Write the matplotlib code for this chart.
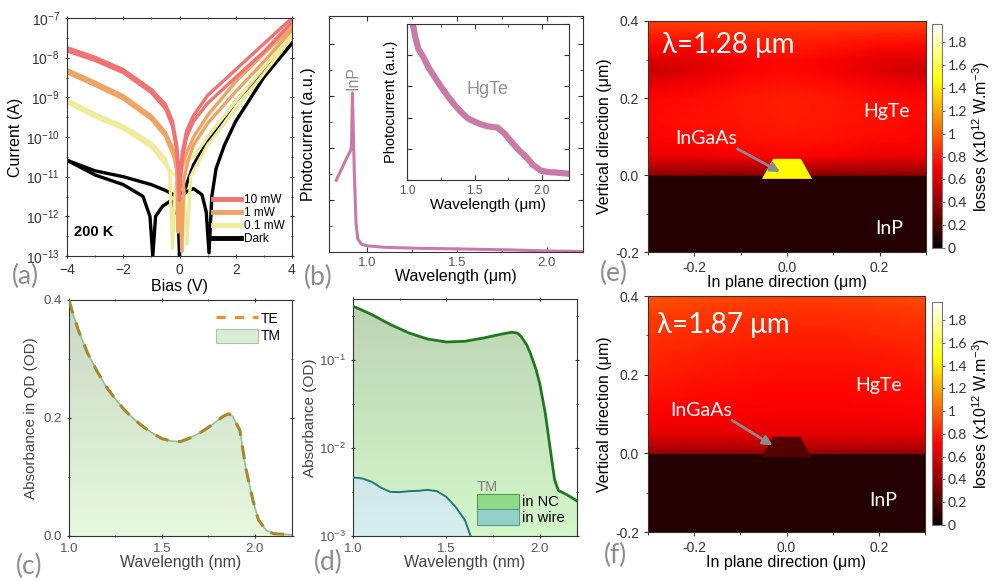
import numpy as np
import matplotlib
matplotlib.use('Agg')
import matplotlib.pyplot as plt
from matplotlib.patches import Polygon, Patch
from matplotlib.lines import Line2D
from matplotlib.ticker import MultipleLocator, LogLocator, NullFormatter, FixedLocator
from matplotlib.colors import Normalize, to_rgb

plt.rcParams['font.family'] = ['Liberation Sans', 'DejaVu Sans']
plt.rcParams['mathtext.fontset'] = 'custom'
plt.rcParams['mathtext.rm'] = 'Liberation Sans'
plt.rcParams['mathtext.it'] = 'Liberation Sans:italic'
plt.rcParams['mathtext.bf'] = 'Liberation Sans:bold'
plt.rcParams['axes.linewidth'] = 0.8
plt.rcParams['axes.edgecolor'] = '#333333'
plt.rcParams['xtick.color'] = '#333333'
plt.rcParams['ytick.color'] = '#333333'

# ---------------- data: (a) I-V curves at 200 K ----------------
v_10mw_1 = [-4, -3, -2, -1, -0.5, -0.25, -0.1, -0.03, 0.0, 0.03, 0.1, 0.25, 0.5, 1, 2, 3, 4]
i_10mw_1 = [1.78e-8, 1.02e-8, 5.0e-9, 1.58e-9, 6.6e-10, 2.5e-10, 6.3e-11, 1.58e-11, 4e-12,
            1.26e-11, 4e-11, 1.41e-10, 3.5e-10, 1.12e-9, 5e-9, 2.24e-8, 1e-7]
v_10mw_2 = [-4, -3, -2, -1, -0.5, -0.25, -0.1, -0.03, 0.0, 0.03, 0.1, 0.25, 0.5, 1, 2, 3, 4]
i_10mw_2 = [1.48e-8, 8.5e-9, 4.2e-9, 1.32e-9, 5.2e-10, 1.9e-10, 4.5e-11, 1e-11, 2.5e-12,
            7.9e-12, 2.8e-11, 1e-10, 2.5e-10, 7.1e-10, 3.2e-9, 1.41e-8, 7.9e-8]
v_1mw_1 = [-4, -3, -2, -1, -0.5, -0.2, -0.1, -0.05, 0, 0.1, 0.2, 0.5, 1, 2, 3, 4]
i_1mw_1 = [5.0e-9, 2.4e-9, 1.1e-9, 3.4e-10, 1.32e-10, 4.5e-11, 1.6e-11, 4e-13, 6.3e-12,
           1.8e-11, 3.2e-11, 1e-10, 3.5e-10, 2.5e-9, 1.26e-8, 6.0e-8]
v_1mw_2 = [-4, -3, -2, -1, -0.5, -0.2, -0.05, 0.02, 0.08, 0.15, 0.3, 0.5, 1, 2, 3, 4]
i_1mw_2 = [4.2e-9, 2.0e-9, 9.1e-10, 2.8e-10, 1.05e-10, 3.2e-11, 1e-11, 2.5e-12, 1.3e-13,
           7.9e-12, 2.5e-11, 6.3e-11, 2.2e-10, 1.4e-9, 7.9e-9, 5.0e-8]
v_01mw_1 = [-4, -3, -2, -1, -0.5, -0.35, -0.25, -0.15, 0, 0.2, 0.5, 1, 2, 3, 4]
i_01mw_1 = [8.7e-10, 3.8e-10, 1.9e-10, 7.1e-11, 2.8e-11, 1.3e-11, 1.6e-13, 5e-12, 1.5e-11,
            2.2e-11, 3.2e-11, 1e-10, 7.9e-10, 5.6e-9, 4.0e-8]
v_01mw_2 = [-4, -3, -2, -1, -0.5, -0.25, 0, 0.15, 0.26, 0.4, 0.5, 1, 2, 3, 4]
i_01mw_2 = [7.5e-10, 3.2e-10, 1.6e-10, 5.6e-11, 2.0e-11, 1.2e-11, 1.0e-11, 5e-12, 2e-13,
            1e-11, 1.4e-11, 6.3e-11, 5.0e-10, 4.0e-9, 3.2e-8]
v_dark_1 = [-4, -3, -2, -1.3, -1.05, -0.95, -0.85, -0.6, -0.3, -0.05, 0.0, 0.05, 0.2, 0.5, 1.0, 1.5, 2, 3, 4]
i_dark_1 = [2.6e-11, 1.1e-11, 6.3e-12, 3.2e-12, 1e-12, 1e-13, 1e-12, 1.8e-12, 2.5e-12, 1e-12,
            1e-13, 1e-12, 5e-12, 2e-11, 7.9e-11, 2.5e-10, 7.9e-10, 5e-9, 2.3e-8]
v_dark_2 = [-4, -3, -2, -1, -0.5, -0.2, 0.2, 0.5, 0.8, 0.95, 1.05, 1.15, 1.3, 1.6, 2, 3, 4]
i_dark_2 = [2.6e-11, 1.4e-11, 1e-11, 6.3e-12, 4.5e-12, 3.5e-12, 4e-12, 5e-12, 3.5e-12, 1.3e-12,
            1.2e-13, 3.2e-12, 1.6e-11, 6.3e-11, 2.5e-10, 3.2e-9, 2.3e-8]

# ---------------- data: (b) photocurrent spectrum ----------------
lam_b = [0.83, 0.86, 0.89, 0.91, 0.915, 0.92, 0.93, 0.94, 0.95, 0.97, 1.0, 1.1, 1.3, 1.5, 1.8, 2.0, 2.2]
pc_b = [1.38, 1.6, 1.82, 1.95, 2.05, 3.06, 1.6, 0.55, 0.25, 0.15, 0.12, 0.09, 0.07, 0.06, 0.04, 0.02, 0.01]
lam_b_in = [1.03, 1.06, 1.085, 1.12, 1.16, 1.2, 1.25, 1.3, 1.35, 1.4, 1.45, 1.5, 1.55, 1.6, 1.67,
            1.72, 1.78, 1.83, 1.88, 1.93, 1.99, 2.05, 2.1, 2.15, 2.2]
pc_b_in = [5.3, 4.6, 4.19, 3.95, 3.6, 3.33, 3.0, 2.7, 2.42, 2.18, 1.98, 1.87, 1.78, 1.72, 1.68,
           1.5, 1.19, 0.95, 0.75, 0.5, 0.3, 0.25, 0.24, 0.22, 0.2]

# ---------------- data: (c) absorbance in QD ----------------
lam_c = [1.0, 1.02, 1.05, 1.1, 1.15, 1.2, 1.25, 1.3, 1.35, 1.4, 1.45, 1.5, 1.55, 1.6, 1.65, 1.7,
         1.75, 1.8, 1.83, 1.86, 1.88, 1.92, 1.95, 1.99, 2.02, 2.06, 2.1, 2.15, 2.2]
abs_tm = [0.40, 0.378, 0.349, 0.31, 0.28, 0.253, 0.232, 0.213, 0.198, 0.185, 0.174, 0.165, 0.161,
          0.160, 0.166, 0.174, 0.184, 0.196, 0.203, 0.207, 0.203, 0.179, 0.117, 0.06, 0.027,
          0.010, 0.004, 0.003, 0.002]
abs_te = abs_tm

# ---------------- data: (d) TM absorbance in NC / in wire ----------------
lam_nc = [1.0, 1.05, 1.1, 1.2, 1.3, 1.4, 1.5, 1.6, 1.7, 1.8, 1.85, 1.88, 1.9, 1.93, 1.95, 1.98,
          2.0, 2.03, 2.06, 2.08, 2.1, 2.15, 2.2]
abs_nc = [0.414, 0.372, 0.333, 0.256, 0.205, 0.175, 0.162, 0.165, 0.180, 0.200, 0.209, 0.205,
          0.188, 0.151, 0.121, 0.0794, 0.0551, 0.0251, 0.0087, 0.00437, 0.00331, 0.00292, 0.00251]
lam_wire = [1.0, 1.05, 1.1, 1.15, 1.2, 1.25, 1.3, 1.35, 1.4, 1.45, 1.5, 1.55, 1.6, 1.63, 1.66]
abs_wire = [4.65e-3, 4.52e-3, 4.14e-3, 3.55e-3, 3.18e-3, 3.16e-3, 3.24e-3, 3.27e-3, 3.35e-3,
            3.24e-3, 2.79e-3, 2.14e-3, 1.51e-3, 1.0e-3, 6.3e-4]

# ---------------- data: (e)/(f) loss maps ----------------
map_x = [-0.3, -0.2, -0.1, 0.0, 0.1, 0.2, 0.3]
map_y = [-0.2, -0.002, 0.0, 0.02, 0.05, 0.1, 0.15, 0.2, 0.24, 0.27, 0.3, 0.34, 0.37, 0.4]
loss_128 = [
    [0.08] * 7,
    [0.08] * 7,
    [0.38] * 7,
    [0.5] * 7,
    [0.66, 0.66, 0.70, 0.72, 0.70, 0.66, 0.66],
    [0.72, 0.74, 0.76, 0.78, 0.76, 0.74, 0.72],
    [0.74, 0.76, 0.78, 0.80, 0.78, 0.76, 0.74],
    [0.72, 0.75, 0.78, 0.80, 0.78, 0.75, 0.72],
    [0.64, 0.69, 0.74, 0.77, 0.74, 0.69, 0.64],
    [0.56, 0.62, 0.70, 0.74, 0.70, 0.62, 0.56],
    [0.62, 0.64, 0.70, 0.74, 0.70, 0.64, 0.62],
    [0.74, 0.75, 0.78, 0.80, 0.78, 0.75, 0.74],
    [0.82, 0.82, 0.84, 0.84, 0.84, 0.82, 0.82],
    [0.90] * 7,
]
loss_187 = [
    [0.08] * 7,
    [0.08] * 7,
    [0.40] * 7,
    [0.52] * 7,
    [0.64] * 7,
    [0.72, 0.71, 0.70, 0.69, 0.69, 0.70, 0.71],
    [0.76, 0.74, 0.73, 0.72, 0.72, 0.73, 0.74],
    [0.80, 0.78, 0.76, 0.75, 0.75, 0.76, 0.78],
    [0.82, 0.80, 0.78, 0.77, 0.77, 0.78, 0.80],
    [0.84, 0.82, 0.80, 0.79, 0.79, 0.80, 0.82],
    [0.86, 0.84, 0.82, 0.81, 0.81, 0.82, 0.84],
    [0.88, 0.87, 0.85, 0.84, 0.84, 0.85, 0.87],
    [0.92, 0.90, 0.88, 0.87, 0.87, 0.88, 0.90],
    [0.96, 0.94, 0.92, 0.90, 0.90, 0.92, 0.94],
]
wire_x = [-0.054, 0.054, 0.03, -0.03]
wire_y = [-0.01, -0.01, 0.042, 0.042]
wire_loss_128 = 1.45
wire_loss_187 = 0.22
loss_vmax = 1.96
cbar_ticks = [0, 0.2, 0.4, 0.6, 0.8, 1.0, 1.2, 1.4, 1.6, 1.8]
cbar_labels = ['0', '0.2', '0.4', '0.6', '0.8', '1', '1.2', '1.4', '1.6', '1.8']

# ---------------- figure ----------------
W, H = 998, 581
fig = plt.figure(figsize=(W / 100, H / 100), dpi=100)


def add_ax(x0, y0, x1, y1):
    return fig.add_axes([x0 / W, 1 - y1 / H, (x1 - x0) / W, (y1 - y0) / H])


def gradient_fill(ax, x, y, base, c_top, c_bot, zorder=1):
    verts = [(x[0], base)] + list(zip(x, y)) + [(x[-1], base)]
    poly = Polygon(verts, closed=True, facecolor='none', edgecolor='none')
    ax.add_patch(poly)
    t = np.linspace(0, 1, 256)[:, None, None]
    img = np.array(to_rgb(c_top))[None, None, :] * (1 - t) + np.array(to_rgb(c_bot))[None, None, :] * t
    im = ax.imshow(img, extent=[0, 1, 0, 1], transform=ax.transAxes, aspect='auto',
                   zorder=zorder, interpolation='bilinear')
    im.set_clip_path(poly)
    return im


def panel_label(x, y, s, size=20):
    fig.text(x / W, 1 - y / H, s, fontsize=size, color='#8c8c8c', family=['Lato', 'DejaVu Sans'],
             ha='left', va='center')


def style(ax, tl=9):
    ax.tick_params(which='both', top=True, right=True, labelsize=tl)
    ax.tick_params(which='major', length=3.5, width=0.8)
    ax.tick_params(which='minor', length=2, width=0.6)
    ax.tick_params(axis='x', which='both', top=True, direction='in')
    ax.tick_params(axis='y', which='both', right=True, direction='in')
    ax.tick_params(axis='x', which='both', bottom=True, direction='inout')
    ax.tick_params(axis='y', which='both', left=True, direction='inout')


# ---- (a) ----
axA = add_ax(67, 18, 292, 256)
c10, c1, c01, cd = '#f07272', '#f0a464', '#eeec9c', '#000000'
for v, i, c in [(v_dark_1, i_dark_1, cd), (v_dark_2, i_dark_2, cd),
                (v_01mw_1, i_01mw_1, c01), (v_01mw_2, i_01mw_2, c01),
                (v_1mw_1, i_1mw_1, c1), (v_1mw_2, i_1mw_2, c1),
                (v_10mw_1, i_10mw_1, c10), (v_10mw_2, i_10mw_2, c10)]:
    axA.plot(v, i, color=c, lw=2.4, solid_joinstyle='round')
axA.set_yscale('log')
axA.set_xlim(-4, 4)
axA.set_ylim(1e-13, 1e-7)
axA.xaxis.set_major_locator(MultipleLocator(2))
axA.xaxis.set_minor_locator(MultipleLocator(1))
axA.yaxis.set_major_locator(LogLocator(base=10, numticks=10))
axA.yaxis.set_minor_locator(LogLocator(base=10, subs=(3.162,), numticks=10))
axA.yaxis.set_minor_formatter(NullFormatter())
style(axA, tl=10)
axA.set_xlabel('Bias (V)', fontsize=11.5, labelpad=1)
axA.set_ylabel('Current (A)', fontsize=11.5, labelpad=2)
handles = [Line2D([], [], color=c10, lw=3.5), Line2D([], [], color=c1, lw=3.5),
           Line2D([], [], color=c01, lw=3.5), Line2D([], [], color=cd, lw=3.5)]
axA.legend(handles, ['10 mW', '1 mW', '0.1 mW', 'Dark'], loc='lower right',
           bbox_to_anchor=(1.0, 0.015), frameon=False, fontsize=8.5, handlelength=2.3,
           labelspacing=0.1, borderpad=0.1, handletextpad=0.3)
axA.text(0.03, 0.1, '200 K', transform=axA.transAxes, fontsize=10.5, fontweight='bold',
         ha='left', va='center')
panel_label(12, 276, '(a)', size=19)

# ---- (b) ----
axB = add_ax(329, 16, 583, 252)
pcol = '#c97aa9'
axB.plot(lam_b, pc_b, color=pcol, lw=2.2, solid_joinstyle='round')
axB.set_xlim(0.79, 2.2)
axB.set_ylim(0, 4.54)
axB.xaxis.set_major_locator(MultipleLocator(0.5))
axB.xaxis.set_minor_locator(MultipleLocator(0.25))
axB.yaxis.set_major_locator(MultipleLocator(1))
axB.yaxis.set_minor_locator(MultipleLocator(0.5))
axB.set_yticklabels([])
style(axB, tl=9.5)
axB.tick_params(axis='both', which='both', direction='in')
for lab in axB.get_xticklabels():
    lab.set_color('#555555')
axB.set_xlabel('Wavelength (μm)', fontsize=11.5, labelpad=0)
axB.set_ylabel('Photocurrent (a.u.)', fontsize=11.5, labelpad=6)
axB.text(0.925, 3.12, 'InP', rotation=90, color='#909090', fontsize=11.5, ha='center', va='bottom')
panel_label(304, 277, '(b)', size=19)

axBi = add_ax(407, 24, 569, 180)
axBi.plot(lam_b_in, pc_b_in, color=pcol, lw=4.5, solid_joinstyle='round')
axBi.set_xlim(1.0, 2.2)
axBi.set_ylim(0, 5.0)
axBi.xaxis.set_major_locator(MultipleLocator(0.5))
axBi.xaxis.set_minor_locator(MultipleLocator(0.25))
axBi.yaxis.set_major_locator(MultipleLocator(1))
axBi.set_yticklabels([])
style(axBi, tl=8.5)
axBi.tick_params(axis='both', which='both', direction='in')
for lab in axBi.get_xticklabels():
    lab.set_color('#555555')
axBi.set_xlabel('Wavelength (μm)', fontsize=11, labelpad=1)
axBi.set_ylabel('Photocurrent (a.u.)', fontsize=10.5, labelpad=3)
axBi.text(1.6, 2.9, 'HgTe', color='#909090', fontsize=13, ha='center', va='center')

# ---- (c) ----
axC = add_ax(69, 300, 292, 536)
gradient_fill(axC, lam_c, abs_tm, 0, '#c9d8c4', '#e6f8de', zorder=1)
axC.plot(lam_c, abs_tm, color='#8cc58c', lw=1.2, zorder=2)
axC.plot(lam_c, abs_te, color='#a8862a', lw=2.2, ls=(0, (4.5, 3.2)), zorder=3)
axC.set_xlim(1.0, 2.2)
axC.set_ylim(0, 0.4)
axC.xaxis.set_major_locator(MultipleLocator(0.5))
axC.xaxis.set_minor_locator(MultipleLocator(0.25))
axC.yaxis.set_major_locator(MultipleLocator(0.2))
axC.yaxis.set_minor_locator(MultipleLocator(0.1))
axC.yaxis.set_major_formatter(matplotlib.ticker.FormatStrFormatter('%.1f'))
style(axC, tl=9.5)
for lab in axC.get_xticklabels() + axC.get_yticklabels():
    lab.set_color('#555555')
axC.set_xlabel('Wavelength (nm)', fontsize=11.5, labelpad=0, color='#444444')
axC.set_ylabel('Absorbance in QD (OD)', fontsize=11, labelpad=4, color='#444444')
hC = [Line2D([], [], color='#f08c2c', lw=2.2, ls=(0, (3, 3))),
      Patch(facecolor='#d9edd2', edgecolor='#a9c7a3', lw=0.8)]
axC.legend(hC, ['TE', 'TM'], loc='upper right', bbox_to_anchor=(1.0, 1.0), frameon=False,
           fontsize=10, handlelength=3.0, handleheight=1.2, labelspacing=0.2,
           handletextpad=0.2, borderpad=0.3)
panel_label(16, 566, '(c)', size=19)

# ---- (d) ----
axD = add_ax(353, 299, 577, 536)
gradient_fill(axD, lam_nc, abs_nc, 1e-5, '#bcd3b4', '#d3f7c9', zorder=1)
gradient_fill(axD, lam_wire, abs_wire, 1e-5, '#b7ccd0', '#d8eff2', zorder=2)
axD.plot(lam_nc, abs_nc, color='#1f7a1f', lw=2.0, zorder=3)
axD.plot(lam_wire, abs_wire, color='#1f7a7a', lw=1.4, zorder=3)
axD.set_yscale('log')
axD.set_xlim(1.0, 2.2)
axD.set_ylim(1e-3, 0.5)
axD.xaxis.set_major_locator(MultipleLocator(0.5))
axD.xaxis.set_minor_locator(MultipleLocator(0.25))
axD.yaxis.set_major_locator(FixedLocator([1e-3, 1e-2, 1e-1]))
axD.yaxis.set_minor_locator(FixedLocator([3.162e-3, 3.162e-2, 3.162e-1]))
axD.yaxis.set_minor_formatter(NullFormatter())
style(axD, tl=9.5)
for lab in axD.get_xticklabels() + axD.get_yticklabels():
    lab.set_color('#555555')
axD.set_xlabel('Wavelength (nm)', fontsize=11.5, labelpad=0, color='#444444')
axD.set_ylabel('Absorbance (OD)', fontsize=11, labelpad=1, color='#444444')
hD = [Patch(facecolor='#8edb88', edgecolor='#4f9a4f', lw=0.8),
      Patch(facecolor='#92d0c6', edgecolor='#5a9a98', lw=0.8)]
legD = axD.legend(hD, ['in NC', 'in wire'], title='TM', loc='lower right',
                  bbox_to_anchor=(0.995, 0.0), frameon=False, fontsize=10.5, title_fontsize=10.5,
                  handlelength=2.9, handleheight=1.25, labelspacing=0.0, handletextpad=0.2,
                  borderpad=0.25)
legD._legend_box.align = 'left'
legD.get_title().set_color('#808080')
panel_label(314, 562, '(d)', size=19)

# ---- (e) / (f) ----
norm = Normalize(vmin=0, vmax=loss_vmax)
cmap = plt.get_cmap('hot')
annot_font = ['Lato', 'DejaVu Sans']


def loss_panel(box, cbox, loss, wire_loss, lam_txt, lam_pos, ing_pos, arrow_from, arrow_to,
               hg_pos, inp_pos, label, label_pos):
    ax = add_ax(*box)
    X, Y = np.meshgrid(map_x, map_y)
    mesh = ax.pcolormesh(X, Y, np.array(loss), shading='gouraud', cmap=cmap, norm=norm,
                         rasterized=True)
    ax.add_patch(Polygon(list(zip(wire_x, wire_y)), closed=True,
                         facecolor=cmap(norm(wire_loss)), edgecolor='none', zorder=3))
    ax.set_xlim(-0.3, 0.3)
    ax.set_ylim(-0.2, 0.4)
    ax.xaxis.set_major_locator(MultipleLocator(0.2))
    ax.xaxis.set_minor_locator(MultipleLocator(0.1))
    ax.yaxis.set_major_locator(MultipleLocator(0.2))
    ax.yaxis.set_minor_locator(MultipleLocator(0.1))
    ax.xaxis.set_major_formatter(matplotlib.ticker.FormatStrFormatter('%.1f'))
    ax.yaxis.set_major_formatter(matplotlib.ticker.FormatStrFormatter('%.1f'))
    ax.tick_params(which='both', direction='out', labelsize=10, labelcolor='#333333')
    ax.tick_params(which='major', length=3)
    ax.tick_params(which='minor', length=1.8)
    ax.set_xlabel('In plane direction (μm)', fontsize=11.5, labelpad=0)
    ax.set_ylabel('Vertical direction (μm)', fontsize=11.5, labelpad=2)
    ax.text(lam_pos[0], lam_pos[1], lam_txt, color='white', fontsize=20, family=annot_font,
            ha='left', va='center')
    ax.text(ing_pos[0], ing_pos[1], 'InGaAs', color='white', fontsize=14, family=annot_font,
            ha='center', va='center')
    ax.text(hg_pos[0], hg_pos[1], 'HgTe', color='white', fontsize=14, family=annot_font,
            ha='center', va='center')
    ax.text(inp_pos[0], inp_pos[1], 'InP', color='white', fontsize=14, family=annot_font,
            ha='center', va='center')
    ax.annotate('', xy=arrow_to, xytext=arrow_from,
                arrowprops=dict(arrowstyle='-|>', color='#8a8a8a', lw=2.0, mutation_scale=14,
                                shrinkA=0, shrinkB=0), zorder=5)
    cax = add_ax(*cbox)
    cb = fig.colorbar(mesh, cax=cax, ticks=cbar_ticks)
    cb.ax.set_yticklabels(cbar_labels, family=annot_font, fontsize=10)
    cb.ax.tick_params(length=2, width=0.6, color='#555555', pad=2)
    cb.outline.set_edgecolor('#777777')
    cb.outline.set_linewidth(0.8)
    cb.set_label('losses (x10$^{12}$ W.m$^{-3}$)', fontsize=11.5, labelpad=2)
    panel_label(label_pos[0], label_pos[1], label, size=19)
    return ax


loss_panel((648, 21, 926, 252), (932, 24, 942, 248), loss_128, wire_loss_128, 'λ=1.28 μm',
           (-0.27, 0.338), (-0.175, 0.096), (-0.107, 0.068), (-0.015, 0.008),
           (0.215, 0.164), (0.22, -0.138), '(e)', (600, 273))
loss_panel((648, 296, 925, 532), (932, 302, 942, 525), loss_187, wire_loss_187, 'λ=1.87 μm',
           (-0.28, 0.326), (-0.184, 0.11), (-0.118, 0.084), (-0.03, 0.02),
           (0.2, 0.173), (0.21, -0.12), '(f)', (604, 555))

fig.savefig('out.png', dpi=100)
